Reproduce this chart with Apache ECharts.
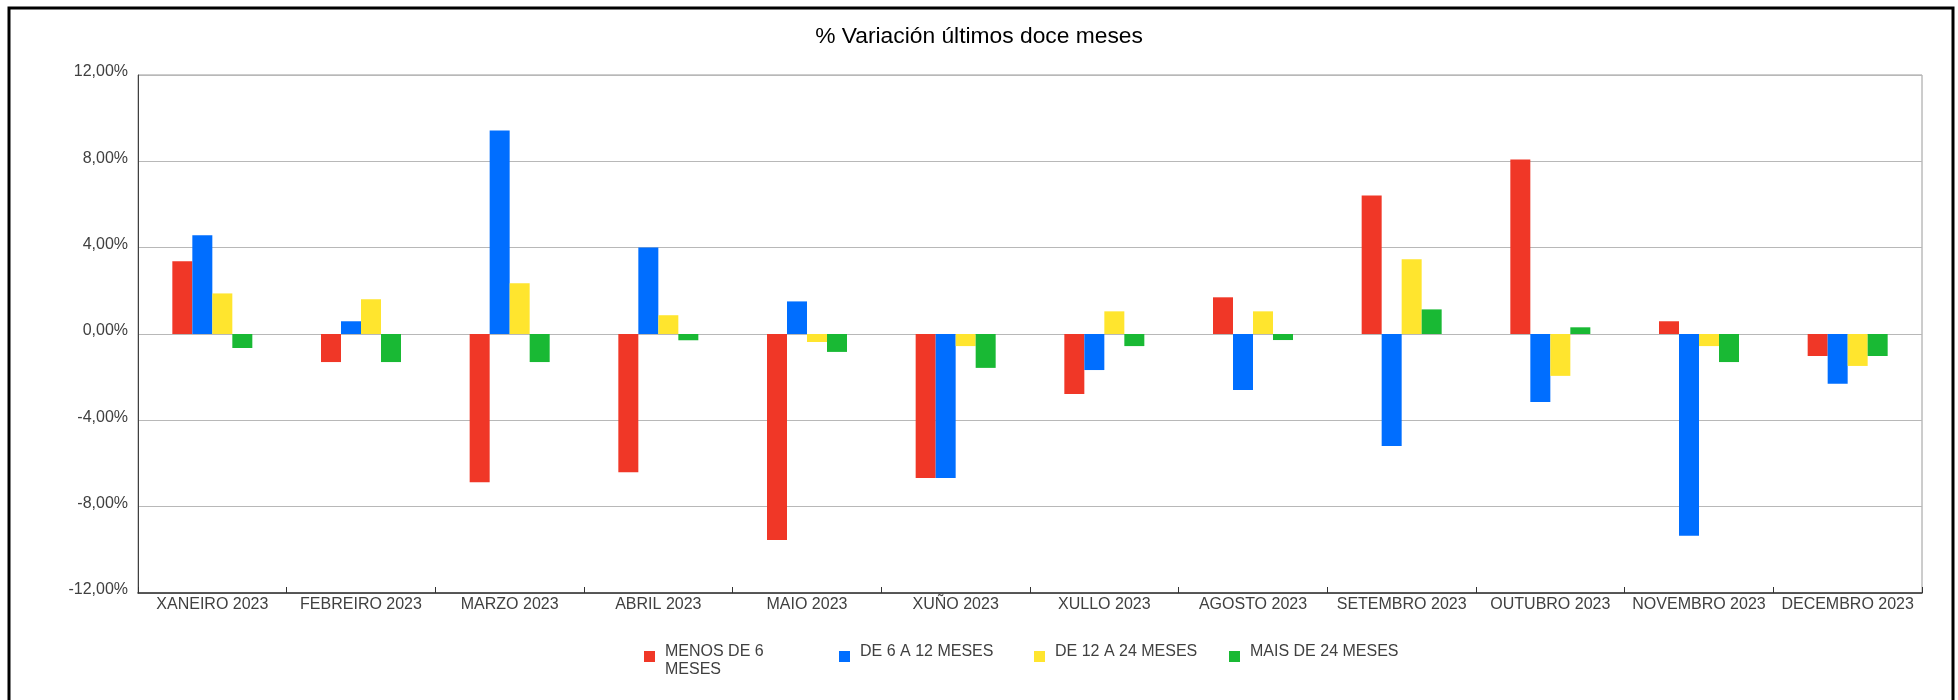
<!DOCTYPE html>
<html>
<head>
<meta charset="utf-8">
<style>
html,body{margin:0;padding:0;background:#fff;}
#chart{width:1958px;height:700px;}
</style>
<script src="https://cdn.jsdelivr.net/npm/echarts@6/dist/echarts.min.js"></script>
</head>
<body>
<div id="chart"></div>
<script>
const titleText = '% Variación últimos doce meses';
const categories = ['XANEIRO 2023','FEBREIRO 2023','MARZO 2023','ABRIL 2023','MAIO 2023','XUÑO 2023','XULLO 2023','AGOSTO 2023','SETEMBRO 2023','OUTUBRO 2023','NOVEMBRO 2023','DECEMBRO 2023'];
const seriesNames = ['MENOS DE 6 MESES','DE 6 A 12 MESES','DE 12 A 24 MESES','MAIS DE 24 MESES'];
const seriesColors = ['#F03727','#006EFF','#FFE52E','#19B934'];
const menos6 = [3.37, -1.30, -6.87, -6.40, -9.54, -6.67, -2.78, 1.70, 6.42, 8.09, 0.59, -1.02];
const de6a12 = [4.57, 0.59, 9.43, 4.01, 1.51, -6.67, -1.67, -2.59, -5.19, -3.15, -9.35, -2.31];
const de12a24 = [1.88, 1.61, 2.35, 0.87, -0.37, -0.56, 1.05, 1.05, 3.46, -1.94, -0.56, -1.48];
const mais24 = [-0.65, -1.30, -1.30, -0.29, -0.83, -1.57, -0.56, -0.28, 1.14, 0.31, -1.30, -1.02];
const yTicks = [-12, -8, -4, 0, 4, 8, 12];
const yTickLabels = ['-12,00%','-8,00%','-4,00%','0,00%','4,00%','8,00%','12,00%'];

const seriesData = [menos6, de6a12, de12a24, mais24];
const chart = echarts.init(document.getElementById('chart'), null, {renderer: 'canvas'});
const font = 'Liberation Sans, Arial, sans-serif';
const labelColor = '#404040';

// wrap legend names to a fixed width; single lines get a blank second line
const legendTextWidth = 152;
const measureCtx = document.createElement('canvas').getContext('2d');
measureCtx.font = '16px ' + font;
function wrapLegend(name) {
  const words = name.split(' ');
  const lines = [];
  let cur = '';
  words.forEach(w => {
    const t = cur ? cur + ' ' + w : w;
    if (cur && measureCtx.measureText(t).width > legendTextWidth) { lines.push(cur); cur = w; }
    else cur = t;
  });
  lines.push(cur);
  if (lines.length === 1) lines.push(' ');
  return lines.join('\n');
}

const legendIcon = 'path://M0,0H11V11H0Z M0,0L16,20';

const option = {
  animation: false,
  backgroundColor: '#fff',
  title: {
    text: titleText,
    left: 'center',
    top: 20,
    textStyle: {fontFamily: font, fontSize: 22.8, fontWeight: 'normal', color: '#000'}
  },
  graphic: [{
    type: 'rect',
    shape: {x: 9, y: 8, width: 1944, height: 720},
    style: {fill: 'none', stroke: '#000', lineWidth: 3},
    silent: true,
    z: 100
  }],
  grid: {
    left: 138, right: 36, top: 75, bottom: 107,
    show: true, borderColor: '#9a9a9a', borderWidth: 1, backgroundColor: 'transparent'
  },
  legend: {
    left: 644,
    top: 643,
    padding: 0,
    orient: 'horizontal',
    itemWidth: 16,
    itemHeight: 20,
    itemGap: 22,
    icon: legendIcon,
    itemStyle: {borderWidth: 0},
    formatter: wrapLegend,
    textStyle: {fontFamily: font, fontSize: 16, color: labelColor, width: legendTextWidth, lineHeight: 18},
    data: seriesNames
  },
  xAxis: {
    type: 'category',
    data: categories,
    boundaryGap: true,
    axisLine: {onZero: false, lineStyle: {color: '#333', width: 1.5}},
    axisTick: {show: true, inside: true, length: 6, alignWithLabel: false, lineStyle: {color: '#333'}},
    axisLabel: {fontFamily: font, fontSize: 16, color: labelColor, margin: 4, interval: 0},
    splitLine: {show: false}
  },
  yAxis: {
    type: 'value',
    min: -12, max: 12, interval: 4,
    axisLine: {show: true, lineStyle: {color: '#404040', width: 1}},
    axisTick: {show: false},
    axisLabel: {
      fontFamily: font, fontSize: 16, color: labelColor, margin: 10,
      verticalAlign: 'bottom', lineHeight: 6,
      formatter: v => yTickLabels[yTicks.indexOf(v)]
    },
    splitLine: {show: true, lineStyle: {color: '#b8b8b8', width: 1}}
  },
  series: seriesNames.map((n, i) => ({
    name: n,
    type: 'bar',
    data: seriesData[i],
    barWidth: 20,
    barGap: '0%',
    itemStyle: {color: seriesColors[i]}
  }))
};
chart.setOption(option);
</script>
</body>
</html>
